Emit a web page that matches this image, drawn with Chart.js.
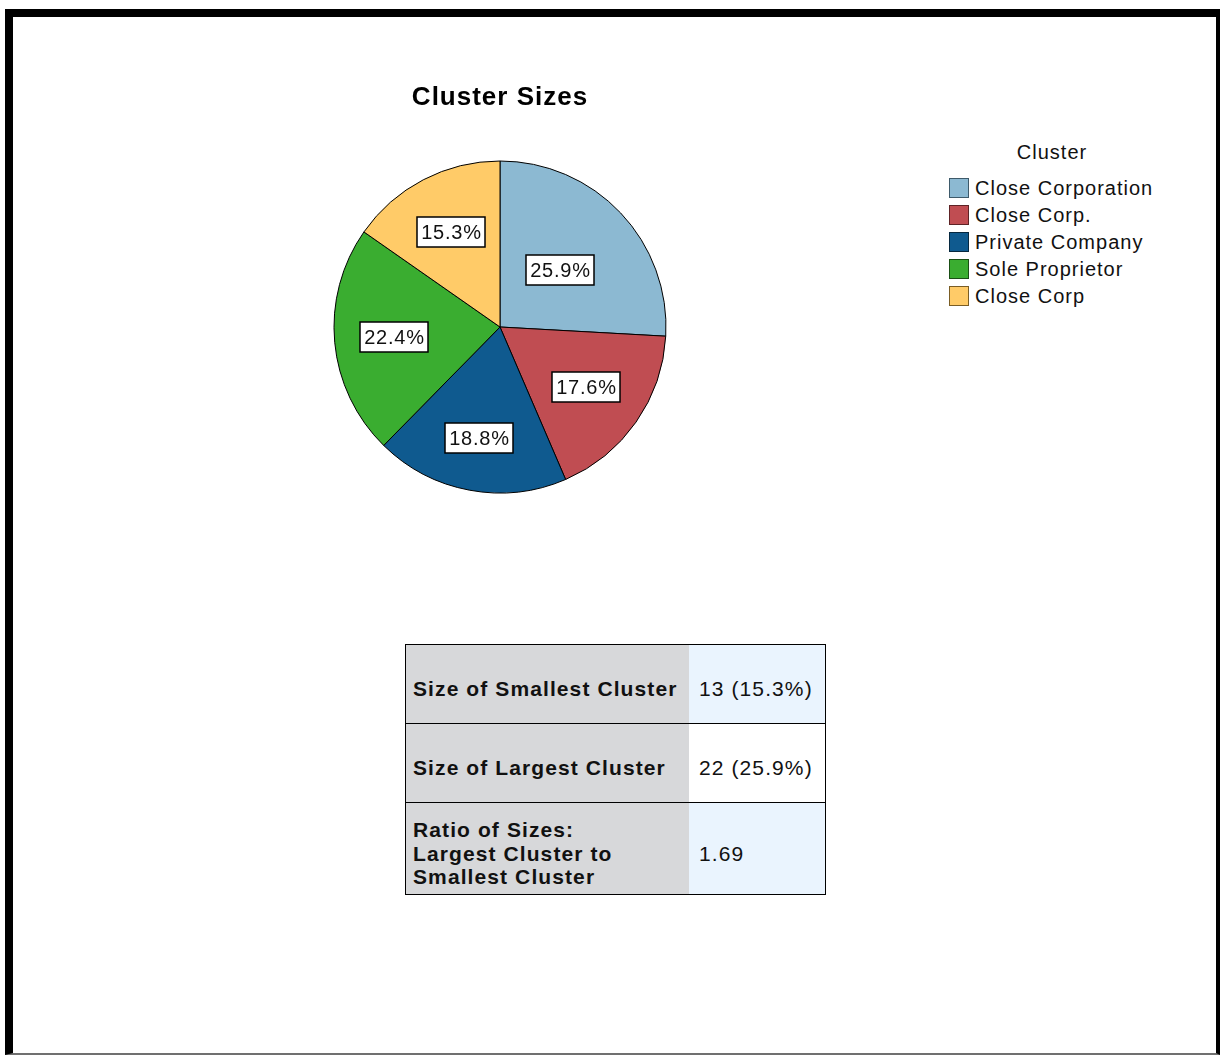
<!DOCTYPE html>
<html>
<head>
    <title>Cluster Sizes</title>
    <script src="https://cdn.jsdelivr.net/npm/chart.js"></script>
    <style>
        body {
            margin: 0;
            width: 1220px;
            height: 1055px;
            position: relative;
            overflow: hidden;
            background: #fff;
            font-family: "Liberation Sans", Arial, sans-serif;
            color: #111;
        }
        .frame {
            position: absolute;
            left: 5px;
            top: 9px;
            width: 1215px;
            height: 1046px;
            box-sizing: border-box;
            border-top: 8px solid #000;
            border-left: 8px solid #000;
            border-right: 4px solid #000;
            border-bottom: 2px solid #707070;
        }
        .pie-box {
            position: absolute;
            left: 300px;
            top: 60px;
            width: 400px;
            height: 440px;
        }
        .legend-title {
            position: absolute;
            left: 949px;
            top: 140px;
            width: 206px;
            text-align: center;
            font-size: 20px;
            line-height: 24px;
            letter-spacing: 1px;
        }
        .legend {
            position: absolute;
            left: 949px;
            top: 174px;
            font-size: 20px;
            letter-spacing: 1px;
        }
        .legend-item {
            display: flex;
            align-items: center;
            height: 27px;
            white-space: nowrap;
        }
        .legend-item .swatch {
            width: 20px;
            height: 20px;
            box-sizing: border-box;
            border: 1.5px solid #333;
            margin-right: 6px;
        }
        .legend-item span {
            position: relative;
            top: 1px;
        }
        table.stats {
            position: absolute;
            left: 405px;
            top: 644px;
            width: 421px;
            border-collapse: collapse;
            font-size: 21px;
            letter-spacing: 1.1px;
        }
        table.stats td {
            border-top: 1px solid #000;
            border-bottom: 1px solid #000;
            padding: 10px 0 0 0;
            vertical-align: middle;
            line-height: 23.5px;
        }
        table.stats td.name {
            width: 276px;
            padding-left: 7px;
            background: #d7d8da;
            border-left: 1px solid #000;
            font-weight: bold;
        }
        table.stats td.value {
            padding-left: 10px;
            background: #eaf4fe;
            border-right: 1px solid #000;
        }
        table.stats tr.plain td.value {
            background: #fff;
        }
    </style>
</head>
<body>
    <div class="frame"></div>

    <div class="pie-box">
        <canvas id="clusterPie"></canvas>
    </div>

    <div class="legend-title">Cluster</div>
    <div class="legend" id="legend"></div>

    <table class="stats">
        <tr style="height:79px">
            <td class="name">Size of Smallest Cluster</td>
            <td class="value" id="smallest"></td>
        </tr>
        <tr class="plain" style="height:79px">
            <td class="name">Size of Largest Cluster</td>
            <td class="value" id="largest"></td>
        </tr>
        <tr style="height:92px">
            <td class="name">Ratio of Sizes:<br>Largest Cluster to<br>Smallest Cluster</td>
            <td class="value" id="ratio"></td>
        </tr>
    </table>

    <script>
        // cluster membership counts
        const clusterNames = ['Close Corporation', 'Close Corp.', 'Private Company', 'Sole Proprietor', 'Close Corp'];
        const clusterCounts = [22, 15, 16, 19, 13];

        const sliceColors = ['#8cb9d2', '#c04d52', '#0f5a8f', '#3aad30', '#ffcb68'];
        const swatchBorders = ['#3e5a6a', '#5e2326', '#06283f', '#1a4f15', '#7a5d25'];
        // how far out (fraction of radius) each percentage box sits
        const labelRadius = [0.5, 0.63, 0.68, 0.64, 0.645];

        const fontFamily = '"Liberation Sans", Arial, sans-serif';

        const total = clusterCounts.reduce((a, b) => a + b, 0);
        const percentLabels = clusterCounts.map(c => (c / total * 100).toFixed(1) + '%');

        // white boxed percentages on each slice
        const sliceLabels = {
            id: 'sliceLabels',
            afterDatasetsDraw(chart) {
                const ctx = chart.ctx;
                const meta = chart.getDatasetMeta(0);
                ctx.save();
                ctx.font = '20px ' + fontFamily;
                ctx.letterSpacing = '0.8px';
                ctx.textAlign = 'center';
                ctx.textBaseline = 'middle';
                meta.data.forEach((arc, i) => {
                    const p = arc.getProps(['x', 'y', 'startAngle', 'endAngle', 'outerRadius'], true);
                    const mid = (p.startAngle + p.endAngle) / 2;
                    const r = p.outerRadius * labelRadius[i];
                    const x = Math.round(p.x + Math.cos(mid) * r);
                    const y = Math.round(p.y + Math.sin(mid) * r);
                    const text = percentLabels[i];
                    const w = Math.round(ctx.measureText(text).width + 7);
                    const h = 30;
                    ctx.fillStyle = '#fff';
                    ctx.fillRect(x - w / 2, y - h / 2, w, h);
                    ctx.lineWidth = 1.5;
                    ctx.strokeStyle = '#000';
                    ctx.strokeRect(x - w / 2, y - h / 2, w, h);
                    ctx.fillStyle = '#111';
                    ctx.fillText(text, x + 0.5, y + 1);
                });
                ctx.restore();
            }
        };

        // wider tracking for the title text
        const titleSpacing = {
            id: 'titleSpacing',
            beforeDraw(chart) { chart.ctx.letterSpacing = '1px'; },
            afterDraw(chart) { chart.ctx.letterSpacing = '0px'; }
        };

        const pieChart = new Chart(document.getElementById('clusterPie'), {
            type: 'pie',
            data: {
                labels: clusterNames,
                datasets: [{
                    data: clusterCounts,
                    backgroundColor: sliceColors,
                    borderColor: '#000',
                    borderWidth: 1
                }]
            },
            options: {
                responsive: true,
                maintainAspectRatio: false,
                animation: false,
                events: [],
                radius: 166,
                layout: { padding: 0 },
                plugins: {
                    legend: { display: false },
                    tooltip: { enabled: false },
                    title: {
                        display: true,
                        text: 'Cluster Sizes',
                        color: '#000',
                        font: { family: fontFamily, size: 26, weight: 'bold', lineHeight: 1.2 },
                        padding: { top: 22.4, bottom: 40.4 }
                    }
                }
            },
            plugins: [sliceLabels, titleSpacing]
        });

        // legend beside the pie
        const legendEl = document.getElementById('legend');
        clusterNames.forEach((name, i) => {
            const item = document.createElement('div');
            item.className = 'legend-item';
            const sw = document.createElement('div');
            sw.className = 'swatch';
            sw.style.background = sliceColors[i];
            sw.style.borderColor = swatchBorders[i];
            const label = document.createElement('span');
            label.textContent = name;
            item.appendChild(sw);
            item.appendChild(label);
            legendEl.appendChild(item);
        });

        // summary table
        const minCount = Math.min(...clusterCounts);
        const maxCount = Math.max(...clusterCounts);
        document.getElementById('smallest').textContent = minCount + ' (' + (minCount / total * 100).toFixed(1) + '%)';
        document.getElementById('largest').textContent = maxCount + ' (' + (maxCount / total * 100).toFixed(1) + '%)';
        document.getElementById('ratio').textContent = (maxCount / minCount).toFixed(2);
    </script>
</body>
</html>
